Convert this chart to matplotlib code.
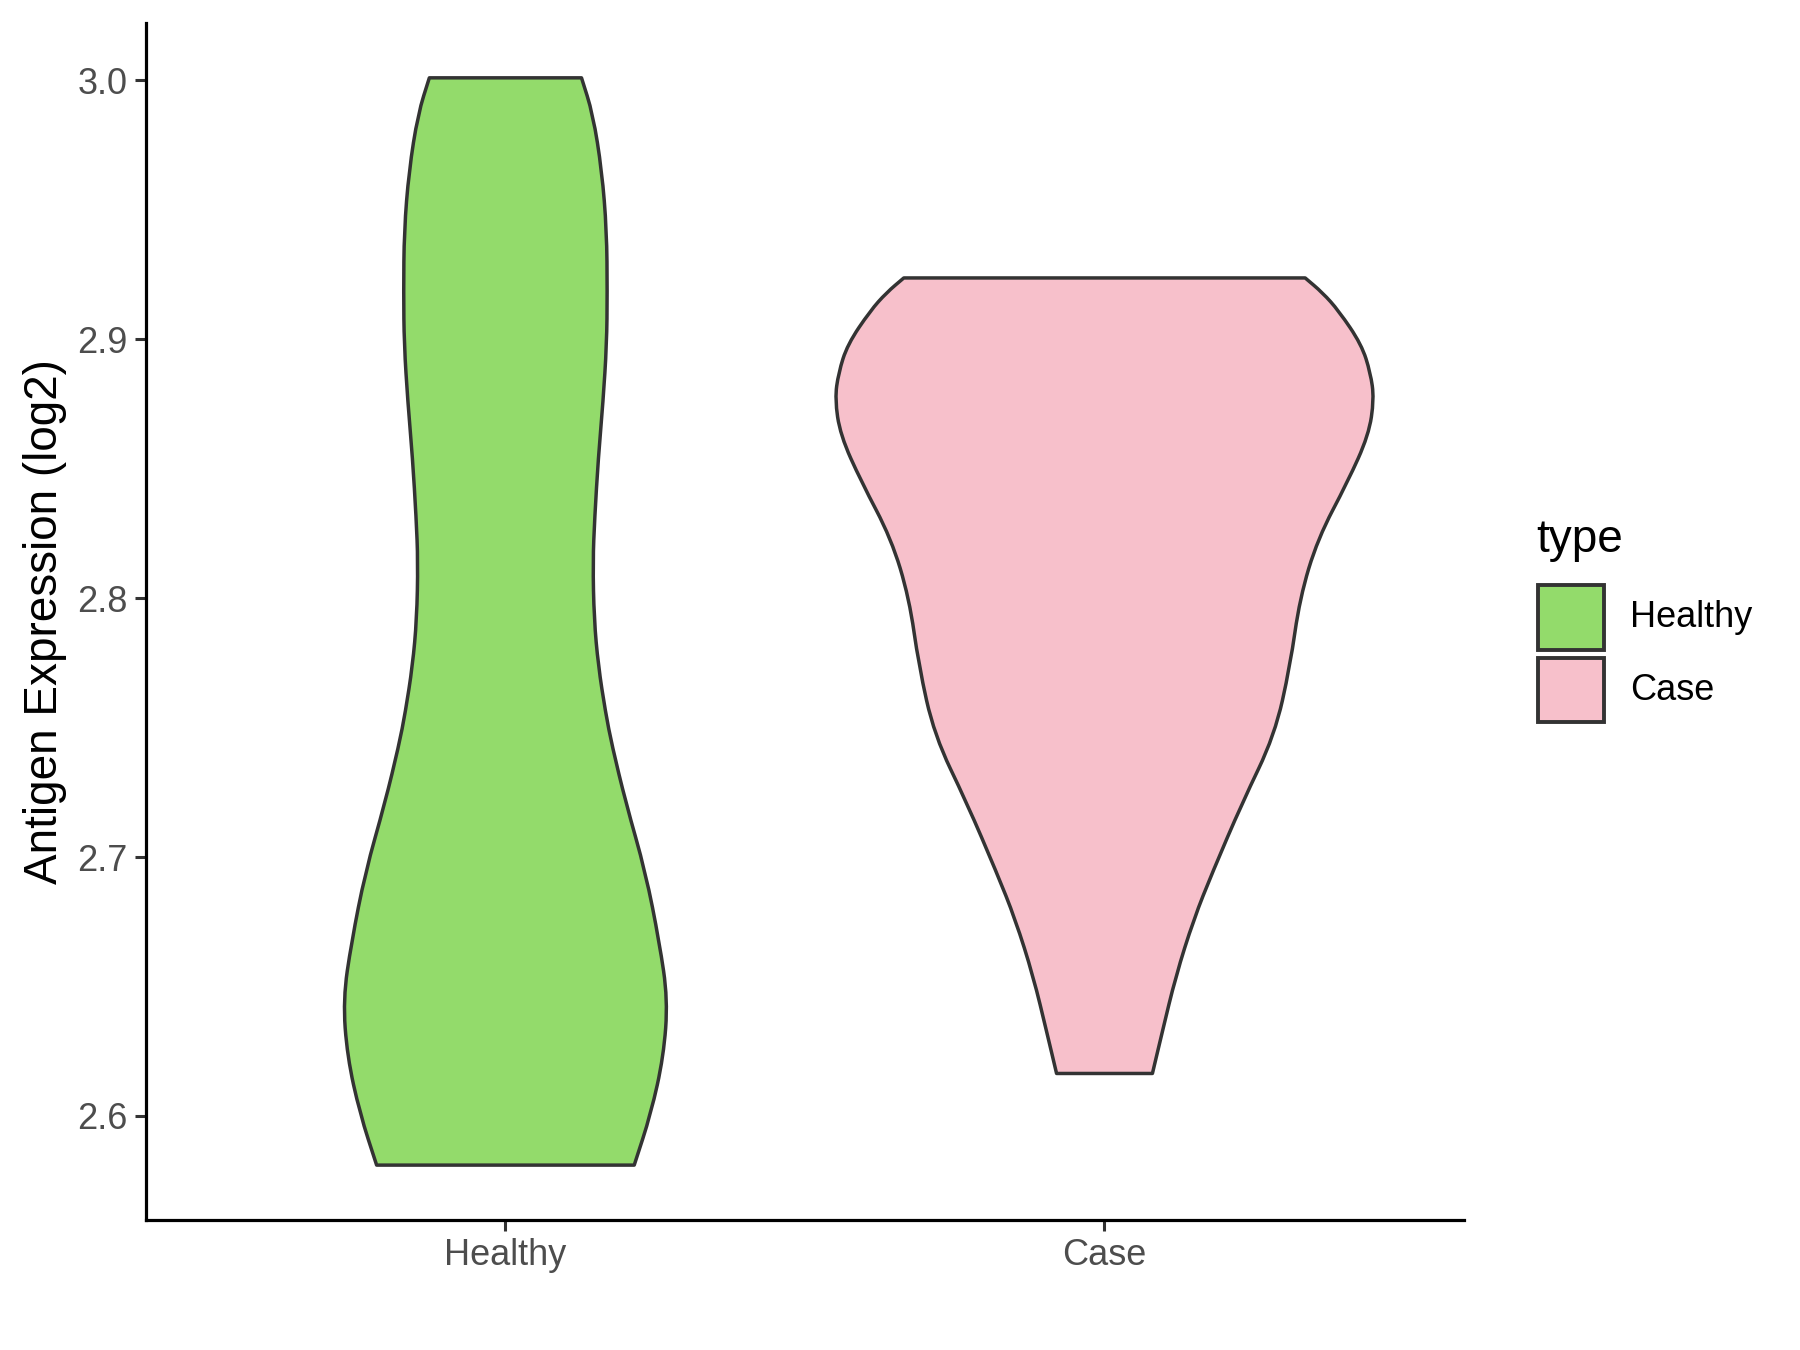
import matplotlib.pyplot as plt
from matplotlib.patches import Rectangle, PathPatch
from matplotlib.path import Path
import numpy as np

plt.rcParams['font.family'] = ['Liberation Sans', 'DejaVu Sans']

groups = ["Healthy", "Case"]
fill_colors = ["#93DB6B", "#F7C0CB"]

# violin outlines: y value and half width (x units)
healthy_y = [3.001, 2.987, 2.965, 2.942, 2.918, 2.898, 2.876, 2.854, 2.831, 2.814,
             2.792, 2.774, 2.756, 2.743, 2.721, 2.694, 2.667, 2.645, 2.623, 2.601, 2.581]
healthy_hw = [0.127, 0.146, 0.161, 0.169, 0.170, 0.169, 0.163, 0.155, 0.149, 0.146,
              0.148, 0.155, 0.167, 0.178, 0.201, 0.234, 0.257, 0.271, 0.264, 0.243, 0.215]

case_y = [2.9237, 2.918, 2.911, 2.898, 2.887, 2.877, 2.863, 2.845, 2.823, 2.800,
          2.774, 2.747, 2.721, 2.694, 2.676, 2.654, 2.632, 2.6164]
case_hw = [0.335, 0.364, 0.391, 0.429, 0.444, 0.450, 0.441, 0.406, 0.356, 0.326,
           0.310, 0.284, 0.230, 0.180, 0.149, 0.119, 0.096, 0.080]

y_ticks = [2.6, 2.7, 2.8, 2.9, 3.0]

profiles = [(healthy_y, healthy_hw), (case_y, case_hw)]


def smooth_side(pts, first_code):
    # quadratic curve through the midpoints, read points act as control points
    verts = [pts[0], (pts[0] + pts[1]) / 2]
    codes = [first_code, Path.LINETO]
    for i in range(1, len(pts) - 1):
        verts += [pts[i], (pts[i] + pts[i + 1]) / 2]
        codes += [Path.CURVE3, Path.CURVE3]
    verts.append(pts[-1])
    codes.append(Path.LINETO)
    return verts, codes


fig = plt.figure(figsize=(9, 6.75), dpi=200)
ax = fig.add_axes([0.0811, 0.0963, 0.7322, 0.8867])

for i, (ys, hw) in enumerate(profiles):
    ys = np.array(ys)
    hw = np.array(hw)
    c = i + 1
    left = np.column_stack([c - hw, ys])
    right = np.column_stack([c + hw, ys])[::-1]
    v1, c1 = smooth_side(left, Path.MOVETO)
    v2, c2 = smooth_side(right, Path.LINETO)
    verts = v1 + v2 + [left[0]]
    codes = c1 + c2 + [Path.CLOSEPOLY]
    patch = PathPatch(Path(verts, codes), facecolor=fill_colors[i], edgecolor="#333333",
                      linewidth=1.25, joinstyle="round", zorder=2)
    ax.add_patch(patch)

ax.set_xlim(0.4, 2.6)
ax.set_ylim(2.5598, 3.0222)
ax.set_xticks([1, 2])
ax.set_xticklabels(groups)
ax.set_yticks(y_ticks)
ax.set_yticklabels(["%.1f" % v for v in y_ticks])

for s in ["top", "right"]:
    ax.spines[s].set_visible(False)
for s in ["left", "bottom"]:
    ax.spines[s].set_linewidth(1.15)
    ax.spines[s].set_color("black")

ax.tick_params(axis="both", length=4, width=1.1, color="#333333",
               labelcolor="#4D4D4D", labelsize=13, pad=2.5)
ax.set_ylabel("Antigen Expression (log2)", fontsize=16.5, color="black")
ax.yaxis.set_label_coords(-0.06, 0.5)

# legend
fig.text(1536 / 1800, 1 - 540 / 1350, "type", fontsize=16.5, va="center", ha="left")
keys = [(585, 650), (658, 722)]
for i, (y0, y1) in enumerate(keys):
    fig.add_artist(Rectangle((1538 / 1800, 1 - y1 / 1350), 66 / 1800, (y1 - y0) / 1350,
                             transform=fig.transFigure, facecolor=fill_colors[i],
                             edgecolor="#333333", linewidth=1.4))
    fig.text(1630 / 1800, 1 - (y0 + y1) / 2 / 1350, groups[i], fontsize=13,
             va="center", ha="left")

fig.savefig("out.png", dpi=200, facecolor="white")
